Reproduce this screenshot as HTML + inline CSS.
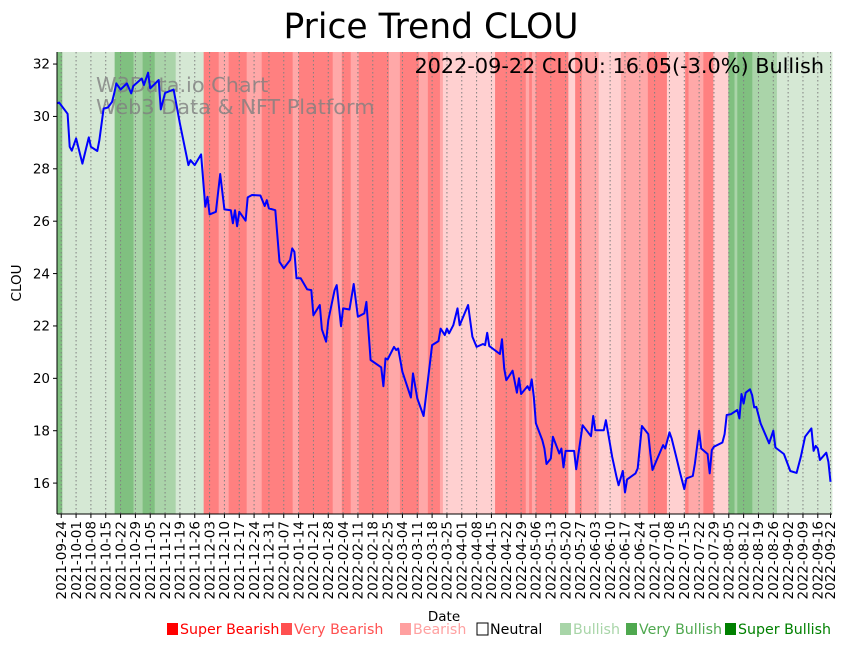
<!DOCTYPE html>
<html><head><meta charset="utf-8"><style>
body{margin:0;background:#fff;}
svg text{font-family:"DejaVu Sans","Liberation Sans",sans-serif;}
</style></head><body>
<svg id="chart" width="851" height="646" xmlns="http://www.w3.org/2000/svg">
<g id="bands"></g>
<g id="grid"></g>
<g id="wm">
<text x="96" y="92" font-size="20.8" fill="#808080" fill-opacity="0.8">W3Data.io Chart</text>
<text x="96" y="114" font-size="20.8" fill="#808080" fill-opacity="0.8">Web3 Data &amp; NFT Platform</text>
</g>
<path id="line" fill="none" stroke="#0000ff" stroke-width="2" stroke-linejoin="round"/>
<g id="axes"></g>
<text x="431" y="38" font-size="34.5" text-anchor="middle">Price Trend CLOU</text>
<text x="824" y="73" font-size="20.8" text-anchor="end">2022-09-22 CLOU: 16.05(-3.0%) Bullish</text>
<text x="444" y="621" font-size="13.5" text-anchor="middle">Date</text>
<text transform="translate(21,283) rotate(-90)" font-size="13.5" text-anchor="middle">CLOU</text>
<g id="legend"></g>
</svg>
<script>
// day offsets from 2021-09-22
const priceDays=[0,1,5,6,7,9,12,15,16,19,20,22,24,26,27,28,30,33,35,36,40,41,43,44,48,49,51,55,58,62,63,65,68,70,71,72,75,77,79,82,83,84,85,86,89,90,92,96,98,99,100,103,105,107,110,111,112,113,115,118,120,121,124,125,127,128,131,132,134,135,138,140,142,145,146,148,153,154,155,156,159,160,161,163,167,168,170,173,175,177,180,181,183,184,185,187,189,190,194,196,198,201,202,203,204,209,210,211,212,215,217,218,219,222,223,224,225,226,229,230,231,233,234,237,238,239,240,244,245,248,252,253,254,258,259,262,264,265,267,268,269,273,274,276,279,280,281,283,286,287,289,290,292,294,296,297,300,301,303,304,307,308,309,310,314,315,316,318,321,322,323,324,325,327,328,329,330,332,336,338,339,343,346,349,351,353,356,357,358,359,360,363,364,365];
const priceValues=[30.5,30.53,30.1,28.84,28.69,29.16,28.2,29.2,28.84,28.68,29.1,30.3,30.34,30.56,30.88,31.26,31.03,31.26,30.88,31.16,31.45,31.2,31.67,31.07,31.39,30.27,30.9,31.03,29.73,28.14,28.33,28.14,28.55,26.55,26.93,26.26,26.36,27.8,26.45,26.42,25.92,26.42,25.81,26.36,26.02,26.91,27.0,26.98,26.58,26.8,26.49,26.42,24.45,24.2,24.52,24.96,24.83,23.82,23.82,23.4,23.37,22.41,22.8,21.87,21.4,22.22,23.37,23.56,21.99,22.67,22.63,23.6,22.35,22.48,22.92,20.7,20.42,19.7,20.76,20.72,21.2,21.08,21.14,20.25,19.27,20.19,19.23,18.56,19.93,21.27,21.42,21.9,21.65,21.9,21.72,22.03,22.67,22.03,22.8,21.59,21.2,21.31,21.27,21.74,21.23,20.93,21.49,20.38,19.93,20.29,19.45,20.0,19.4,19.7,19.55,19.96,19.3,18.28,17.64,17.32,16.73,16.94,17.77,17.13,17.32,16.6,17.23,17.23,16.53,18.21,17.79,18.56,18.02,18.02,18.4,17.0,16.24,15.92,16.46,15.64,16.14,16.37,16.56,18.18,17.87,17.11,16.5,16.88,17.45,17.32,17.94,17.71,17.07,16.39,15.77,16.18,16.27,16.75,18.0,17.32,17.11,16.37,17.26,17.39,17.55,17.87,18.6,18.63,18.79,18.47,19.4,19.04,19.45,19.58,19.36,18.89,18.91,18.28,17.52,18.0,17.36,17.11,16.46,16.39,17.0,17.77,18.09,17.23,17.42,17.32,16.88,17.16,16.81,16.05];
// sentiment bands: start day and level
const bandStarts=[0,2.5,27.2,36.1,40.4,46.1,56,69.2,76.3,81,89.5,96.6,111.2,114.1,130.1,134.4,138.6,142.4,156.6,161.8,170.8,175,180.7,182.1,206.7,221.2,222.8,224.1,225.9,238.3,241.3,244.5,247.6,255.6,266.1,278.8,287.8,296.4,298,305,309.7,316.8,319.7,321,328.1,339.7];
const bandLevels=[3,1,3,2,3,2,1,-3,-2,-3,-2,-3,-2,-3,-2,-3,-2,-3,-2,-3,-2,-3,-2,-1,-3,-2,-3,-2,-3,-3,-1,-3,-2,-1,-2,-3,-1,-3,-2,-3,-1,3,2,3,2,1];
const yTicks=[16,18,20,22,24,26,28,30,32];
const legendLabels=["Super Bearish","Very Bearish","Bearish","Neutral","Bullish","Very Bullish","Super Bullish"];
const legendColors=["#ff0000","#ff5050","#ffa0a0","#ffffff","#a8d5a8","#4fa84f","#008000"];
const legendText=["#ff0000","#ff5050","#ffa0a0","#000000","#a8d5a8","#4fa84f","#008000"];
const legendX=[167,281,400,477,560,626,725];

const NS="http://www.w3.org/2000/svg";
const X0=57,X1=832,Y0=52,Y1=514,DMAX=365.7,VMIN=14.82,VMAX=32.46;
const xs=d=>X0+d/DMAX*(X1-X0);
const ys=v=>Y1-(v-VMIN)/(VMAX-VMIN)*(Y1-Y0);
const bandColor={"3":"#80c080","2":"#aad4a9","1":"#d5e8d4","-1":"#ffd0d0","-2":"#ffa8a8","-3":"#ff8080"};
function mk(tag,at,parent){const e=document.createElementNS(NS,tag);for(const k in at)e.setAttribute(k,at[k]);parent.appendChild(e);return e;}
const bands=document.getElementById('bands');
for(let i=0;i<bandStarts.length;i++){
  const a=xs(bandStarts[i]),b=i+1<bandStarts.length?xs(bandStarts[i+1]):X1;
  const r=mk('rect',{x:a,y:Y0,width:b-a+0.4,height:Y1-Y0,fill:bandColor[String(bandLevels[i])]},bands);
  
  
}
const grid=document.getElementById('grid'),axes=document.getElementById('axes');
const base=new Date(Date.UTC(2021,8,22));
const tickDays=[];for(let d=2;d<=360;d+=7)tickDays.push(d);tickDays.push(365);
tickDays.forEach(d=>{
  const x=xs(d);
  const g=mk('line',{x1:x,x2:x,y1:Y0,y2:Y1,stroke:'#808080','stroke-width':1,'stroke-dasharray':'1.5,2.5'},grid);
  
  
  mk('line',{x1:x,x2:x,y1:Y1,y2:Y1+4,stroke:'#000','stroke-width':1},axes);
  const dt=new Date(base.getTime()+d*86400000);
  const s=dt.toISOString().slice(0,10);
  const t=mk('text',{transform:`translate(${x+4.7},${Y1+7}) rotate(-90)`,'font-size':13.5,'text-anchor':'end'},axes);
  t.textContent=s;
  
  
});
yTicks.forEach(v=>{
  const y=ys(v);
  mk('line',{x1:X0-4,x2:X0,y1:y,y2:y,stroke:'#000','stroke-width':1},axes);
  const t=mk('text',{x:X0-7,y:y+4.7,'font-size':13.5,'text-anchor':'end'},axes);
  t.textContent=v;
  
  
});
mk('line',{x1:X0,x2:X0,y1:Y0,y2:Y1,stroke:'#000','stroke-width':1},axes);
mk('line',{x1:X0,x2:X1,y1:Y1,y2:Y1,stroke:'#000','stroke-width':1},axes);
let p='';priceDays.forEach((d,i)=>{p+=(i?'L':'M')+xs(d).toFixed(1)+','+ys(priceValues[i]).toFixed(1);});
document.getElementById('line').setAttribute('d',p);
const lg=document.getElementById('legend');
legendLabels.forEach((l,i)=>{
  const x=legendX[i];
  mk('rect',{x:x,y:623,width:11,height:12,fill:legendColors[i],stroke:i===3?'#000':'none','stroke-width':1},lg);
  const t=mk('text',{x:x+13,y:634,'font-size':14.2,fill:legendText[i]},lg);
  t.textContent=l;
  
  
});
</script>
</body></html>
